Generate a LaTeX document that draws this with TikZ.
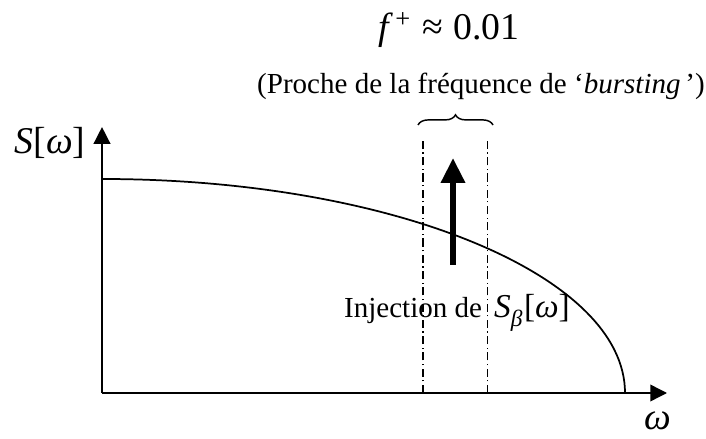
\documentclass[tikz,border=0pt]{standalone}
\usepackage{amsmath,amssymb}
\usepackage{fontspec}
\setmainfont{Liberation Serif}
\usepackage{tikz}
\usetikzlibrary{arrows.meta,positioning,calc,decorations.pathreplacing}
\newcommand{\bigmath}{\fontsize{13}{15}\selectfont}
\newcommand{\vi}[1]{{\itshape #1}}

\begin{document}
\begin{tikzpicture}[scale=1.21,
  axisline/.style={line width=1pt, -{Triangle[length=5.8pt,width=5.6pt]}},
  guideline/.style={line width=0.4pt, dash pattern=on 2.8pt off 1.2pt on 0.4pt off 1.2pt}]
\useasboundingbox (-1.02,-0.45) rectangle (6.04,3.93);
\coordinate (O) at (0,0);
\coordinate (ytip) at (0,2.66);
\coordinate (xtip) at (5.65,0);
\coordinate (gl) at (3.21,0);
\coordinate (gr) at (3.85,0);
\draw[axisline] (O) -- (ytip);
\draw[axisline] (O) -- (xtip);
\node[font=\bigmath] (Slab) at (-0.52,2.5) {\vi{S}[\vi{ω}]};
\node[font=\bigmath, inner sep=1pt] (wlab) at (5.56,-0.28) {\vi{ω}};
% spectre
\draw[line width=0.6pt] (0,2.14) arc[start angle=90, end angle=0, x radius=5.23, y radius=2.14];
% bande autour de f+
\draw[guideline] (gl) -- ++(0,2.55) coordinate (gltop);
\draw[guideline] (gr) -- ++(0,2.55) coordinate (grtop);
\draw[line width=0.5pt, decorate, decoration={brace, amplitude=3.5pt}] (3.16,2.68) -- (3.91,2.68);
\draw[line width=2pt, -{Triangle[length=8.6pt,width=8pt]}] (3.51,1.28) coordinate (inj) -- (3.51,2.35);
\node[anchor=base] (injlab) at (3.55,0.75) {Injection de\, {\fontsize{11.5}{13}\selectfont\vi{S}\textsubscript{\raisebox{-0.3ex}{\vi{β}}}[\vi{ω}]}};
\node[anchor=base] (caption) at (3.79,2.99) {(Proche de la fréquence de `\textit{bursting}\,')};
\node[anchor=base, font=\bigmath] (fplus) at (3.47,3.53) {\vi{f}\,\textsuperscript{+}\;≈\;0.01};
\end{tikzpicture}
\end{document}
